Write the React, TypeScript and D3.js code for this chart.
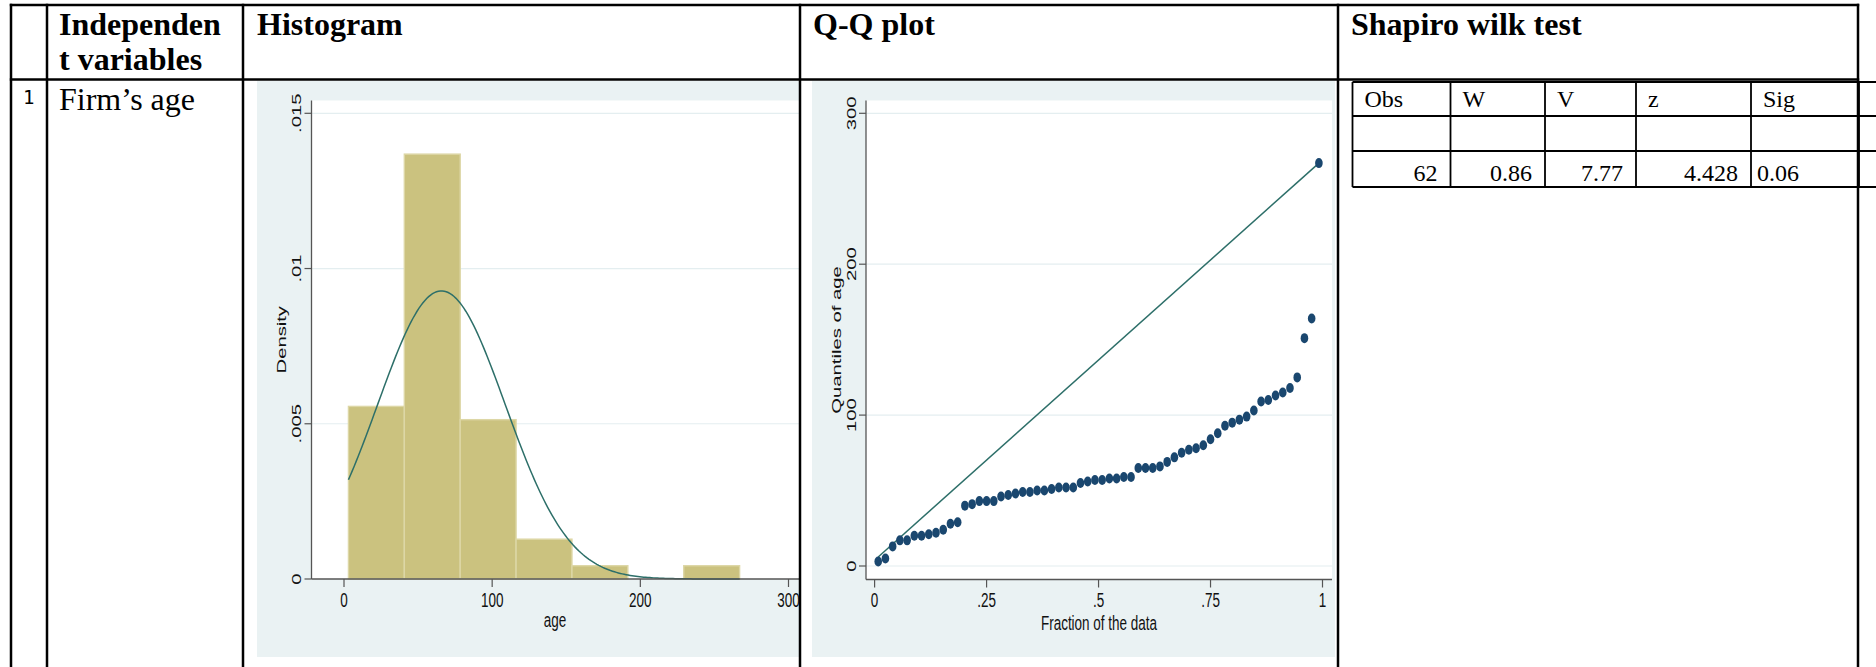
import React from 'react';
import * as d3 from 'd3';

// ---------- data ----------
const ages = [
  3, 5, 13, 17, 17, 20, 20, 21, 22, 24, 28, 29, 40,
  41, 43, 43, 43, 46, 47, 48, 49, 49, 50, 50, 51, 52, 52, 52, 55, 56, 57, 57,
  58, 58, 59, 59, 65, 65, 65, 66, 69, 72, 75, 77, 78,
  80, 84, 88, 93, 95, 97, 99, 103, 109, 110, 113, 115,
  118, 125, 151, 164, 267,
];
const histBinCount = 7;
const histTicksX = [0, 100, 200, 300];
const histTicksY = [0, 0.005, 0.01, 0.015];
const histTickLabelsY = ['0', '.005', '.01', '.015'];
const qqTicksX = [0, 0.25, 0.5, 0.75, 1];
const qqTickLabelsX = ['0', '.25', '.5', '.75', '1'];
const qqTicksY = [0, 100, 200, 300];
const qqRefLine: [number, number][] = [[0.008, 6], [0.992, 267]];
const headerTitles = ['Histogram', 'Q-Q plot', 'Shapiro wilk test'];
const swHeaders = ['Obs', 'W', 'V', 'z', 'Sig'];
const swValues = ['62', '0.86', '7.77', '4.428', '0.06'];

// ---------- styles ----------
const SERIF = '"Liberation Serif", "Times New Roman", serif';
const SANS = '"Liberation Sans", Arial, sans-serif';
const GFS = 13.5; // graph font size
const SY = 1.5; // vertical stretch of the embedded graphs
const BG = '#eaf2f3';
const GRID = '#e4eef0';
const AXIS = '#555555';
const BAR = '#cbc27f';
const BAR_EDGE = '#ddd7a6';
const TEAL = '#2d6f69';
const NAVY = '#1a476f';

const GT = ({ x, y, rot, anchor = 'middle', children }: any) => (
  <text
    transform={`translate(${x},${y}) scale(1,${SY})${rot ? ' rotate(-90)' : ''}`}
    textAnchor={anchor}
    fontSize={GFS}
    fontFamily={SANS}
    fill="#111"
  >
    {children}
  </text>
);

function Histogram() {
  const n = ages.length;
  const mn = d3.min(ages)!;
  const mx = d3.max(ages)!;
  const w = (mx - mn) / histBinCount;
  const edges = d3.range(histBinCount + 1).map((i) => mn + i * w);
  const bins = d3.bin().domain([mn, mx]).thresholds(edges.slice(1, -1))(ages);
  const mean = d3.mean(ages)!;
  const sd = d3.deviation(ages)!;

  const x = d3.scaleLinear().domain([0, 300]).range([344, 788.5]);
  const y = d3.scaleLinear().domain([0, 0.015]).range([579, 113.3]);
  const axX = 311.5;
  const top = 100.5;
  const bottom = 579;

  const pdf = (v: number) => Math.exp(-0.5 * ((v - mean) / sd) ** 2) / (sd * Math.sqrt(2 * Math.PI));
  const curve = d3.line<number>().x((v) => x(v)).y((v) => y(pdf(v)))(
    d3.range(0, 201).map((i) => mn + (i / 200) * (mx - mn))
  );

  return (
    <g clipPath="url(#histClip)">
      <rect x={257} y={81} width={542} height={576} fill={BG} />
      <rect x={axX} y={top} width={500} height={bottom - top} fill="#fff" />
      {histTicksY.filter((t) => t > 0).map((t) => (
        <line key={t} x1={axX} x2={800} y1={y(t)} y2={y(t)} stroke={GRID} strokeWidth={1.2} />
      ))}
      {bins.map((b, i) =>
        b.length > 0 ? (
          <rect
            key={i}
            x={x(edges[i])}
            y={y(b.length / (n * w))}
            width={x(edges[i + 1]) - x(edges[i])}
            height={bottom - y(b.length / (n * w))}
            fill={BAR}
            stroke={BAR_EDGE}
            strokeWidth={1.4}
          />
        ) : null
      )}
      <path d={curve!} fill="none" stroke={TEAL} strokeWidth={1.5} />
      <line x1={axX} x2={axX} y1={top} y2={bottom} stroke={AXIS} strokeWidth={1.3} />
      <line x1={axX} x2={800} y1={bottom} y2={bottom} stroke={AXIS} strokeWidth={1.3} />
      {histTicksY.map((t, i) => (
        <g key={t}>
          <line x1={axX - 7} x2={axX} y1={y(t)} y2={y(t)} stroke={AXIS} strokeWidth={1.2} />
          <GT x={axX - 10.5} y={y(t)} rot>{histTickLabelsY[i]}</GT>
        </g>
      ))}
      {histTicksX.map((t) => (
        <g key={t}>
          <line x1={x(t)} x2={x(t)} y1={bottom} y2={bottom + 8} stroke={AXIS} strokeWidth={1.2} />
          <GT x={x(t)} y={607}>{String(t)}</GT>
        </g>
      ))}
      <GT x={axX - 25.5} y={(top + bottom) / 2} rot>Density</GT>
      <GT x={555} y={627}>age</GT>
    </g>
  );
}

function QQPlot() {
  const sorted = [...ages].sort((a, b) => a - b);
  const n = sorted.length;
  const x = d3.scaleLinear().domain([0, 1]).range([874.6, 1322.5]);
  const y = d3.scaleLinear().domain([0, 300]).range([566, 113.3]);
  const axX = 866;
  const top = 100.5;
  const bottom = 579.5;
  const right = 1332;
  return (
    <g>
      <rect x={812} y={81} width={523} height={576} fill={BG} />
      <rect x={axX} y={top} width={right - axX} height={bottom - top} fill="#fff" />
      {qqTicksY.map((t) => (
        <line key={t} x1={axX} x2={right} y1={y(t)} y2={y(t)} stroke={GRID} strokeWidth={1.2} />
      ))}
      <line
        x1={x(qqRefLine[0][0])}
        y1={y(qqRefLine[0][1])}
        x2={x(qqRefLine[1][0])}
        y2={y(qqRefLine[1][1])}
        stroke={TEAL}
        strokeWidth={1.5}
      />
      {sorted.map((v, i) => (
        <ellipse key={i} cx={x((i + 0.5) / n)} cy={y(v)} rx={3.8} ry={5} fill={NAVY} />
      ))}
      <line x1={axX} x2={axX} y1={top} y2={bottom} stroke={AXIS} strokeWidth={1.3} />
      <line x1={axX} x2={right} y1={bottom} y2={bottom} stroke={AXIS} strokeWidth={1.3} />
      {qqTicksY.map((t) => (
        <g key={t}>
          <line x1={axX - 7} x2={axX} y1={y(t)} y2={y(t)} stroke={AXIS} strokeWidth={1.2} />
          <GT x={axX - 10.5} y={y(t)} rot>{String(t)}</GT>
        </g>
      ))}
      {qqTicksX.map((t, i) => (
        <g key={t}>
          <line x1={x(t)} x2={x(t)} y1={bottom} y2={bottom + 8} stroke={AXIS} strokeWidth={1.2} />
          <GT x={x(t)} y={607}>{qqTickLabelsX[i]}</GT>
        </g>
      ))}
      <GT x={axX - 25} y={(top + bottom) / 2} rot>Quantiles of age</GT>
      <GT x={(axX + right) / 2} y={629.5}>Fraction of the data</GT>
    </g>
  );
}

function ShapiroTable() {
  const cols = [1352.5, 1450.5, 1545, 1636, 1751, 1859];
  const rows = [82, 116, 151, 187];
  return (
    <g>
      {rows.map((r) => (
        <line key={r} x1={cols[0]} x2={1876} y1={r} y2={r} stroke="#000" strokeWidth={1.8} />
      ))}
      {cols.map((c) => (
        <line key={c} x1={c} x2={c} y1={rows[0]} y2={rows[3]} stroke="#000" strokeWidth={1.8} />
      ))}
      {swHeaders.map((h, i) => (
        <text key={h} x={cols[i] + 12} y={107} fontSize={24} fontFamily={SERIF}>{h}</text>
      ))}
      {swValues.map((v, i) =>
        i < 4 ? (
          <text key={i} x={cols[i + 1] - 13} y={181} fontSize={24} fontFamily={SERIF} textAnchor="end">{v}</text>
        ) : (
          <text key={i} x={cols[i] + 6} y={181} fontSize={24} fontFamily={SERIF}>{v}</text>
        )
      )}
    </g>
  );
}

export default function App() {
  const vLines = [11, 47, 243, 800, 1338, 1858];
  const hLines = [5, 79.5];
  return (
    <svg
      width={1876}
      height={667}
      style={{ position: 'absolute', left: 0, top: 0, background: '#fff' }}
    >
      <defs>
        <clipPath id="histClip">
          <rect x={257} y={81} width={542} height={576} />
        </clipPath>
      </defs>
      <rect x={0} y={0} width={1876} height={667} fill="#fff" />
      <Histogram />
      <QQPlot />
      <ShapiroTable />
      {vLines.map((v) => (
        <line key={v} x1={v} x2={v} y1={3.8} y2={667} stroke="#000" strokeWidth={2.5} />
      ))}
      {hLines.map((h) => (
        <line key={h} x1={9.8} x2={1859.2} y1={h} y2={h} stroke="#000" strokeWidth={2.5} />
      ))}
      <text x={59} y={35} fontSize={32} fontWeight="bold" fontFamily={SERIF}>Independen</text>
      <text x={59} y={70} fontSize={32} fontWeight="bold" fontFamily={SERIF}>t variables</text>
      <text x={257} y={35} fontSize={32} fontWeight="bold" fontFamily={SERIF}>{headerTitles[0]}</text>
      <text x={813} y={35} fontSize={32} fontWeight="bold" fontFamily={SERIF}>{headerTitles[1]}</text>
      <text x={1351} y={35} fontSize={32} fontWeight="bold" fontFamily={SERIF}>{headerTitles[2]}</text>
      <text x={23} y={104} fontSize={19} fontFamily='"DejaVu Sans Mono", monospace'>1</text>
      <text x={59} y={110} fontSize={32} fontFamily={SERIF}>Firm’s age</text>
    </svg>
  );
}
